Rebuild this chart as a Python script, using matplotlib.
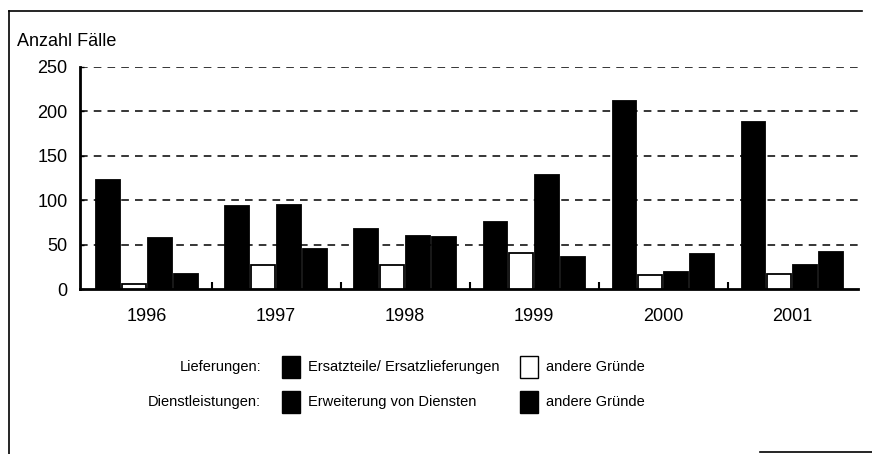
import numpy as np
import matplotlib.pyplot as plt
from matplotlib.patches import Rectangle
from matplotlib.lines import Line2D

plt.rcParams['font.family'] = ['Liberation Sans', 'DejaVu Sans']

years = ['1996', '1997', '1998', '1999', '2000', '2001']
lief_ersatz = [123, 93, 68, 76, 212, 188]
lief_andere = [6, 27, 27, 41, 16, 17]
dienst_erweit = [57, 95, 60, 128, 19, 27]
dienst_andere = [17, 45, 58, 36, 39, 42]

series = [lief_ersatz, lief_andere, dienst_erweit, dienst_andere]
faces = ['black', 'white', 'black', 'black']

row_titles = ['Lieferungen:', 'Dienstleistungen:']
legend_labels = [['Ersatzteile/ Ersatzlieferungen', 'andere Gründe'],
                 ['Erweiterung von Diensten', 'andere Gründe']]
legend_faces = [['black', 'white'], ['black', 'black']]

fig = plt.figure(figsize=(8.72, 4.54), dpi=100)
ax = fig.add_axes([80/872, 1-289/454, 778/872, 222/454])

x = np.arange(len(years))
w = 0.185
for k, vals in enumerate(series):
    ax.bar(x + (k - 1.5)*0.2, vals, w, color=faces[k], edgecolor='black',
           linewidth=1.3, zorder=3)

ax.set_xlim(-0.52, len(years) - 1 + 0.51)
ax.set_ylim(0, 250)
ax.set_yticks([0, 50, 100, 150, 200, 250])
for v in [50, 100, 150, 200, 250]:
    ax.axhline(v, color='black', lw=1.1, ls=(0, (5, 4)), zorder=1)

ax.set_xticks(x)
ax.set_xticklabels(years)
ax.set_xticks(x[:-1] + 0.5, minor=True)
ax.tick_params(axis='x', which='major', length=0, pad=14, labelsize=13)
ax.tick_params(axis='x', which='minor', direction='in', length=5, width=1.5)
ax.tick_params(axis='y', direction='in', length=3, width=1, pad=9, labelsize=13)

for s in ['top', 'right']:
    ax.spines[s].set_visible(False)
for s in ['left', 'bottom']:
    ax.spines[s].set_linewidth(2)

fig.text(17/872, 1-42/454, 'Anzahl Fälle', fontsize=13, va='center', ha='left')

# legend, drawn by hand
row_y = [367, 402]
for r in range(2):
    yc = 1 - row_y[r]/454
    fig.text(261/872, yc, row_titles[r], fontsize=10.5, ha='right', va='center')
    for c, (bx, tx) in enumerate([(282, 308), (520, 546)]):
        fig.patches.append(Rectangle((bx/872, yc - 11/454), 18/872, 22/454,
                                     transform=fig.transFigure,
                                     facecolor=legend_faces[r][c],
                                     edgecolor='black', lw=1))
        fig.text(tx/872, yc, legend_labels[r][c], fontsize=10.5, ha='left',
                 va='center')

# outer frame
fig.add_artist(Line2D([9/872, 9/872], [0, 1-11/454], color='black', lw=1.2,
                      transform=fig.transFigure))
fig.add_artist(Line2D([9/872, 862/872], [1-11/454, 1-11/454], color='black', lw=1.2,
                      transform=fig.transFigure))
fig.add_artist(Line2D([760/872, 872/872], [1-452/454, 1-452/454], color='black', lw=1.2,
                      transform=fig.transFigure))

fig.savefig('out.png', dpi=100)
